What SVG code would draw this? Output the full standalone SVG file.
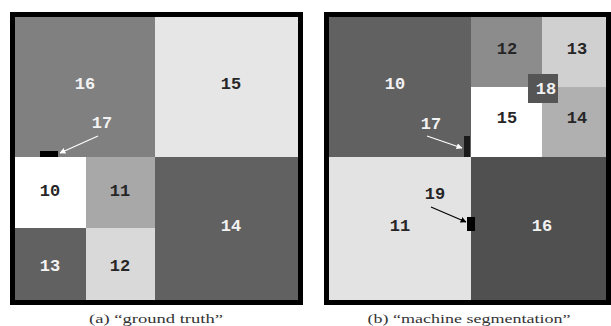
<svg xmlns="http://www.w3.org/2000/svg" width="611" height="326" viewBox="0 0 611 326">
<style>
.lbl{font-family:"Liberation Mono","DejaVu Sans Mono",monospace;font-size:17px;font-weight:bold;text-anchor:middle;dominant-baseline:central}
.w{fill:#f2f2f2}
.d{fill:#262626}
.frame{fill:none;stroke:#000;stroke-width:5}
.cap{font-family:"Liberation Serif","DejaVu Serif",serif;font-size:13px;fill:#333;text-anchor:middle}
</style>
<defs>
<marker id="ahw" viewBox="0 0 10 10" refX="9" refY="5" markerWidth="5" markerHeight="5" orient="auto"><path d="M0,0L10,5L0,10z" fill="#fff"/></marker>
<marker id="ahb" viewBox="0 0 10 10" refX="9" refY="5" markerWidth="5" markerHeight="5" orient="auto"><path d="M0,0L10,5L0,10z" fill="#000"/></marker>
</defs>
<rect width="611" height="326" fill="#fff"/>
<!-- Panel (a) -->
<g id="a16"><rect x="15" y="17" width="140" height="140" fill="#808080"/><text class="lbl w" x="85" y="84">16</text></g>
<g id="a15"><rect x="155" y="17" width="143" height="140" fill="#e6e6e6"/><text class="lbl d" x="231" y="84">15</text></g>
<g id="a10"><rect x="15" y="157" width="71" height="71" fill="#ffffff"/><text class="lbl d" x="50" y="191">10</text></g>
<g id="a11"><rect x="86" y="157" width="69" height="71" fill="#a8a8a8"/><text class="lbl d" x="120" y="191">11</text></g>
<g id="a13"><rect x="15" y="228" width="71" height="72" fill="#616161"/><text class="lbl w" x="50" y="266">13</text></g>
<g id="a12"><rect x="86" y="228" width="69" height="72" fill="#d9d9d9"/><text class="lbl d" x="120" y="266">12</text></g>
<g id="a14"><rect x="155" y="157" width="143" height="143" fill="#616161"/><text class="lbl w" x="231" y="226">14</text></g>
<g id="a17"><rect x="40" y="151" width="18" height="6" fill="#000"/><text class="lbl w" x="102" y="123">17</text></g>
<rect class="frame" x="12.5" y="14.5" width="288" height="288"/>
<text class="cap" x="156" y="323" textLength="134" lengthAdjust="spacingAndGlyphs">(a) “ground truth”</text>
<!-- Panel (b) -->
<g id="b10"><rect x="329" y="17" width="142" height="140" fill="#616161"/><text class="lbl w" x="395" y="84">10</text></g>
<g id="b12"><rect x="471" y="17" width="71" height="70" fill="#8c8c8c"/><text class="lbl d" x="507" y="49">12</text></g>
<g id="b13"><rect x="542" y="17" width="64" height="70" fill="#d0d0d0"/><text class="lbl d" x="577" y="49">13</text></g>
<g id="b15"><rect x="471" y="87" width="71" height="70" fill="#ffffff"/><text class="lbl d" x="507" y="118">15</text></g>
<g id="b14"><rect x="542" y="87" width="64" height="70" fill="#b0b0b0"/><text class="lbl d" x="577" y="118">14</text></g>
<g id="b18"><rect x="528" y="74" width="30" height="29" fill="#555555"/><text class="lbl w" x="546" y="89">18</text></g>
<g id="b11"><rect x="329" y="157" width="142" height="143" fill="#e3e3e3"/><text class="lbl d" x="400" y="226">11</text></g>
<g id="b16"><rect x="471" y="157" width="135" height="143" fill="#505050"/><text class="lbl w" x="542" y="226">16</text></g>
<g id="b17"><rect x="464" y="136" width="6" height="21" fill="#1a1a1a"/><text class="lbl w" x="431" y="124">17</text></g>
<g id="b19"><rect x="467" y="217" width="8" height="14" fill="#000"/><text class="lbl d" x="435" y="194">19</text></g>
<rect class="frame" x="326.5" y="14.5" width="282" height="288"/>
<text class="cap" x="469" y="323" textLength="203" lengthAdjust="spacingAndGlyphs">(b) “machine segmentation”</text>
<!-- connectors -->
<g id="connectors" fill="none" stroke-width="1.2">
<line x1="98" y1="136" x2="60" y2="153" stroke="#fff" marker-end="url(#ahw)"/>
<line x1="427" y1="136" x2="462" y2="148" stroke="#fff" marker-end="url(#ahw)"/>
<line x1="431" y1="207" x2="466" y2="222" stroke="#000" marker-end="url(#ahb)"/>
</g>
</svg>
